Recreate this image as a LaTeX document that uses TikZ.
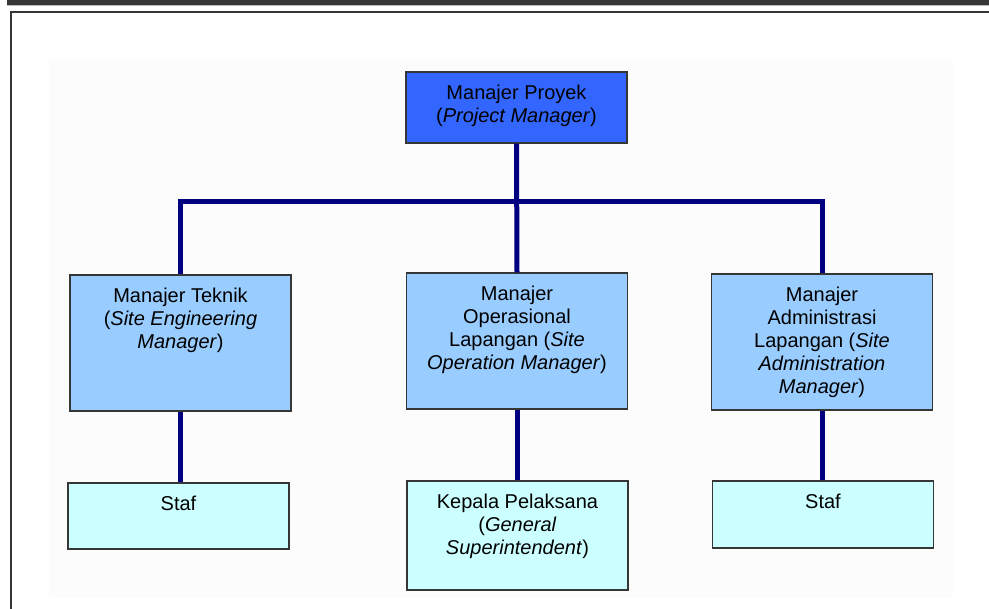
\documentclass[tikz,border=0pt]{standalone}
\usepackage{fontspec}
\setmainfont{Liberation Sans}
\usetikzlibrary{calc,positioning}
\definecolor{pmblue}{HTML}{3366FF}
\definecolor{midblue}{HTML}{99CCFF}
\definecolor{lightcyan}{HTML}{CCFFFF}
\definecolor{linenavy}{HTML}{000080}
\definecolor{framegray}{HTML}{363636}
\tikzstyle{box}=[rectangle,draw=framegray,line width=1.4pt,inner sep=0pt,minimum width=221pt]
\tikzstyle{manager}=[box,fill=midblue,minimum height=136pt]
\tikzstyle{staff}=[box,fill=lightcyan]
\tikzstyle{caption}=[anchor=north,inner sep=0pt,align=center,font=\fontsize{20}{23}\selectfont]
\tikzstyle{orgline}=[draw=linenavy,line width=5pt,line join=miter]

\begin{document}
\begin{tikzpicture}[x=1pt,y=-1pt]
    \useasboundingbox (0,0) rectangle (989,609);
    % screen frame
    \fill[framegray] (7,0) rectangle (989,5);
    \fill[gray!55] (7,5) rectangle (989,6.5);
    \draw[framegray,line width=2pt] (11,609) -- (11,12) -- (989,12);
    \fill[black!1] (49,59) rectangle (953,598);

    \node[box, fill=pmblue, minimum height=71pt](pm) at (516.5,107.5){};
    \node[caption](pm_text) at ([yshift=-14pt]pm.north){Manajer Proyek\\(\textit{Project Manager})};

    \node[manager](teknik) at (180.5,343){};
    \node[manager](ops) at (517,341){};
    \node[manager](admin) at (822,342){};
    \node[caption](teknik_text) at ([yshift=-14pt]teknik.north){Manajer Teknik\\(\textit{Site Engineering}\\\textit{Manager})};
    \node[caption](ops_text) at ([yshift=-14pt]ops.north){Manajer\\Operasional\\Lapangan (\textit{Site}\\\textit{Operation Manager})};
    \node[caption](admin_text) at ([yshift=-14pt]admin.north){Manajer\\Administrasi\\Lapangan (\textit{Site}\\\textit{Administration}\\\textit{Manager})};

    \node[staff, minimum height=66pt](staf_left) at (178.5,516){};
    \node[staff, minimum height=109pt](kepala) at (517.5,535.5){};
    \node[staff, minimum height=67pt](staf_right) at (823,514.5){};
    \node[caption](staf_left_text) at ([yshift=-14pt]staf_left.north){Staf};
    \node[caption](kepala_text) at ([yshift=-14pt]kepala.north){Kepala Pelaksana\\(\textit{General}\\\textit{Superintendent})};
    \node[caption](staf_right_text) at ([yshift=-14pt]staf_right.north){Staf};

    \coordinate (bus) at (517,202);

    \draw[orgline](pm.south) -- (ops.north);
    \draw[orgline](teknik.north) |- (bus) -| (admin.north);
    \draw[orgline](teknik.south) -- (teknik.south |- staf_left.north);
    \draw[orgline](ops.south) -- (ops.south |- kepala.north);
    \draw[orgline](admin.south) -- (admin.south |- staf_right.north);
\end{tikzpicture}
\end{document}
